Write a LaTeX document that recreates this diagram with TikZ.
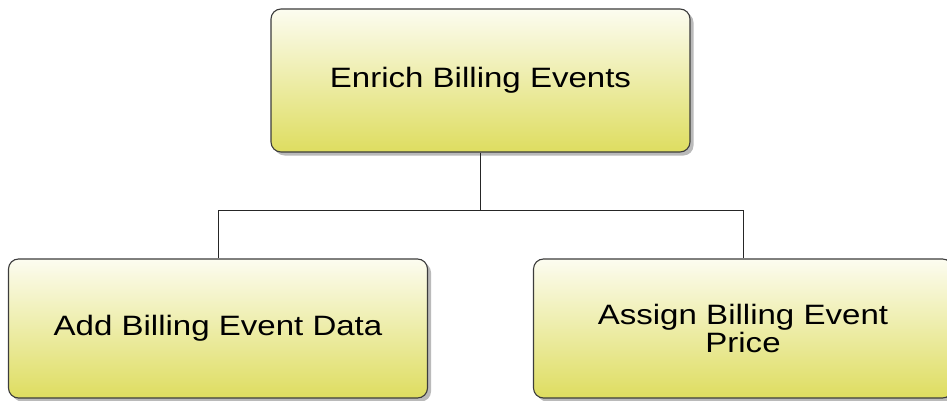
\documentclass[tikz,border=0pt]{standalone}
\usepackage{fontspec}
\setmainfont[FakeStretch=1.18]{Liberation Sans}
\usetikzlibrary{shadows}
\definecolor{boxtop}{HTML}{FCFCF0}
\definecolor{boxbottom}{HTML}{DEDD60}
\definecolor{boxline}{HTML}{3C3C3C}
\tikzset{
  task/.style={rectangle, rounded corners=10pt, draw=boxline, line width=1.1pt,
    top color=boxtop, bottom color=boxbottom, minimum width=419pt,
    align=center, inner sep=4pt, font=\fontsize{28}{25}\selectfont,
    drop shadow={shadow xshift=3.5pt, shadow yshift=-3.5pt, fill=black!45, opacity=0.6}},
  link/.style={draw=black!85, line width=1pt}
}
\begin{document}
\begin{tikzpicture}[x=1pt, y=-1pt]
  \useasboundingbox (0,0) rectangle (947,401);
  \clip (0,0) rectangle (947,401);
  \node[task, minimum height=143pt] (enrich) at (480.5,80.5) {Enrich Billing Events};
  \node[task, minimum height=139pt] (add) at (218,328.5) {Add Billing Event Data};
  \node[task, minimum height=139pt, text width=380pt] (assign) at (743,328.5) {Assign Billing Event\\Price};
  \coordinate (split) at (480.5,210);
  \draw[link] (enrich.south) -- (split);
  \draw[link] (split) -| (add.north);
  \draw[link] (split) -| (assign.north);
\end{tikzpicture}
\end{document}
